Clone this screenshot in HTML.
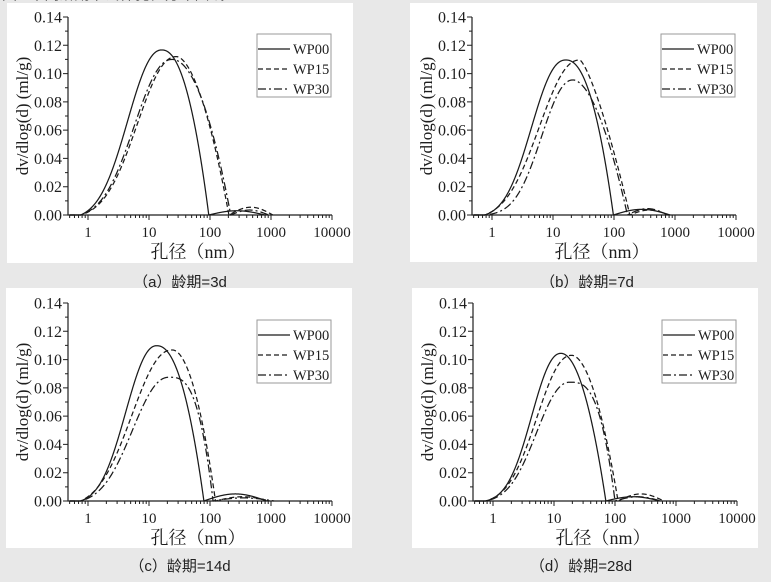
<!DOCTYPE html>
<html><head><meta charset="utf-8">
<style>
html,body{margin:0;padding:0;background:#e8e8e8;}
body{width:771px;height:582px;overflow:hidden;}
svg{display:block;}
.tl{font-family:"Liberation Serif","Noto Serif CJK SC",serif;font-size:15px;fill:#1e1e1e;}
.ty{font-family:"Liberation Serif",serif;font-size:16px;fill:#1e1e1e;}
.yt{font-family:"Liberation Serif",serif;font-size:17px;fill:#1e1e1e;}
.xt{font-family:"Liberation Serif","Noto Serif CJK SC",serif;font-size:18px;fill:#1e1e1e;}
.lg{font-family:"Liberation Serif",serif;font-size:14.5px;fill:#1e1e1e;}
.cap{font-family:"Liberation Sans","Noto Sans CJK SC",sans-serif;font-size:15px;fill:#222;}
</style></head>
<body>
<svg id="s" width="771" height="582" viewBox="0 0 771 582" xmlns="http://www.w3.org/2000/svg">
<rect x="0" y="0" width="771" height="582" fill="#e8e8e8"/>
<text x="2" y="-1" class="cap" font-size="16">图4 不同龄期下试样孔径分布曲线</text>
<text x="180" y="287" text-anchor="middle" class="cap">（a）龄期=3d</text>
<text x="587" y="287" text-anchor="middle" class="cap">（b）龄期=7d</text>
<rect x="7" y="3" width="346" height="260" fill="#fff"/>
<rect x="410" y="3" width="347" height="259" fill="#fff"/>
<rect x="6" y="288" width="346" height="260" fill="#fff"/>
<rect x="412" y="288" width="346" height="260" fill="#fff"/>
<text x="180" y="571" text-anchor="middle" class="cap">（c）龄期=14d</text>
<text x="581" y="571" text-anchor="middle" class="cap">（d）龄期=28d</text>

<g id="pa" transform="translate(68,17)">
<text x="-6" y="5.5" text-anchor="end" class="ty">0.14</text>
<text x="-6" y="33.8" text-anchor="end" class="ty">0.12</text>
<text x="-6" y="62.1" text-anchor="end" class="ty">0.10</text>
<text x="-6" y="90.4" text-anchor="end" class="ty">0.08</text>
<text x="-6" y="118.6" text-anchor="end" class="ty">0.06</text>
<text x="-6" y="146.9" text-anchor="end" class="ty">0.04</text>
<text x="-6" y="175.2" text-anchor="end" class="ty">0.02</text>
<text x="-6" y="203.5" text-anchor="end" class="ty">0.00</text>
<text x="20" y="220" text-anchor="middle" class="tl">1</text>
<text x="81" y="220" text-anchor="middle" class="tl">10</text>
<text x="142" y="220" text-anchor="middle" class="tl">100</text>
<text x="203" y="220" text-anchor="middle" class="tl">1000</text>
<text x="264" y="220" text-anchor="middle" class="tl">10000</text>
<text x="130" y="241" text-anchor="middle" class="xt">孔径（nm）</text>
<text transform="translate(-40,99) rotate(-90)" text-anchor="middle" class="yt">dv/dlog(d) (ml/g)</text>
<text x="225" y="37" class="lg">WP00</text>
<text x="225" y="57" class="lg">WP15</text>
<text x="225" y="77" class="lg">WP30</text>
</g>

<g id="pb" transform="translate(472,17)">
<text x="-6" y="5.5" text-anchor="end" class="ty">0.14</text>
<text x="-6" y="33.8" text-anchor="end" class="ty">0.12</text>
<text x="-6" y="62.1" text-anchor="end" class="ty">0.10</text>
<text x="-6" y="90.4" text-anchor="end" class="ty">0.08</text>
<text x="-6" y="118.6" text-anchor="end" class="ty">0.06</text>
<text x="-6" y="146.9" text-anchor="end" class="ty">0.04</text>
<text x="-6" y="175.2" text-anchor="end" class="ty">0.02</text>
<text x="-6" y="203.5" text-anchor="end" class="ty">0.00</text>
<text x="20" y="220" text-anchor="middle" class="tl">1</text>
<text x="81" y="220" text-anchor="middle" class="tl">10</text>
<text x="142" y="220" text-anchor="middle" class="tl">100</text>
<text x="203" y="220" text-anchor="middle" class="tl">1000</text>
<text x="264" y="220" text-anchor="middle" class="tl">10000</text>
<text x="130" y="241" text-anchor="middle" class="xt">孔径（nm）</text>
<text transform="translate(-40,99) rotate(-90)" text-anchor="middle" class="yt">dv/dlog(d) (ml/g)</text>
<text x="225" y="37" class="lg">WP00</text>
<text x="225" y="57" class="lg">WP15</text>
<text x="225" y="77" class="lg">WP30</text>
</g>

<g id="pc" transform="translate(68,303)">
<text x="-6" y="5.5" text-anchor="end" class="ty">0.14</text>
<text x="-6" y="33.8" text-anchor="end" class="ty">0.12</text>
<text x="-6" y="62.1" text-anchor="end" class="ty">0.10</text>
<text x="-6" y="90.4" text-anchor="end" class="ty">0.08</text>
<text x="-6" y="118.6" text-anchor="end" class="ty">0.06</text>
<text x="-6" y="146.9" text-anchor="end" class="ty">0.04</text>
<text x="-6" y="175.2" text-anchor="end" class="ty">0.02</text>
<text x="-6" y="203.5" text-anchor="end" class="ty">0.00</text>
<text x="20" y="220" text-anchor="middle" class="tl">1</text>
<text x="81" y="220" text-anchor="middle" class="tl">10</text>
<text x="142" y="220" text-anchor="middle" class="tl">100</text>
<text x="203" y="220" text-anchor="middle" class="tl">1000</text>
<text x="264" y="220" text-anchor="middle" class="tl">10000</text>
<text x="130" y="241" text-anchor="middle" class="xt">孔径（nm）</text>
<text transform="translate(-40,99) rotate(-90)" text-anchor="middle" class="yt">dv/dlog(d) (ml/g)</text>
<text x="225" y="37" class="lg">WP00</text>
<text x="225" y="57" class="lg">WP15</text>
<text x="225" y="77" class="lg">WP30</text>
</g>

<g id="pd" transform="translate(473,303)">
<text x="-6" y="5.5" text-anchor="end" class="ty">0.14</text>
<text x="-6" y="33.8" text-anchor="end" class="ty">0.12</text>
<text x="-6" y="62.1" text-anchor="end" class="ty">0.10</text>
<text x="-6" y="90.4" text-anchor="end" class="ty">0.08</text>
<text x="-6" y="118.6" text-anchor="end" class="ty">0.06</text>
<text x="-6" y="146.9" text-anchor="end" class="ty">0.04</text>
<text x="-6" y="175.2" text-anchor="end" class="ty">0.02</text>
<text x="-6" y="203.5" text-anchor="end" class="ty">0.00</text>
<text x="20" y="220" text-anchor="middle" class="tl">1</text>
<text x="81" y="220" text-anchor="middle" class="tl">10</text>
<text x="142" y="220" text-anchor="middle" class="tl">100</text>
<text x="203" y="220" text-anchor="middle" class="tl">1000</text>
<text x="264" y="220" text-anchor="middle" class="tl">10000</text>
<text x="130" y="241" text-anchor="middle" class="xt">孔径（nm）</text>
<text transform="translate(-40,99) rotate(-90)" text-anchor="middle" class="yt">dv/dlog(d) (ml/g)</text>
<text x="225" y="37" class="lg">WP00</text>
<text x="225" y="57" class="lg">WP15</text>
<text x="225" y="77" class="lg">WP30</text>
</g>
</svg>
<script>
(function(){
var NS="http://www.w3.org/2000/svg";
function X(u){return 20+61*u;}
function Y(v){return 198-v*198/0.14;}
function el(g,tag,attrs){var e=document.createElementNS(NS,tag);for(var k in attrs)e.setAttribute(k,attrs[k]);g.appendChild(e);return e;}
var styles=["","5,3","8,3,2,3"];
// [u0,P,sL,pl,uz,pr,hb,H]
var data={
pa:[[1.21,0.1167,0.54,2.2,1.98,2.2,2.90,0.003],
    [1.45,0.112,0.62,2.2,2.31,1.8,3.03,0.0055],
    [1.38,0.110,0.60,2.2,2.34,2.0,2.96,0.0035]],
pb:[[1.213,0.1096,0.54,2.3,1.99,2.2,2.92,0.004],
    [1.44,0.1096,0.64,2.2,2.26,1.35,2.90,0.0035],
    [1.33,0.0955,0.50,2.2,2.22,1.8,2.88,0.0045]],
pc:[[1.127,0.1098,0.49,2.2,1.90,2.2,2.93,0.005],
    [1.38,0.1068,0.64,2.2,2.09,2.0,2.98,0.003],
    [1.33,0.0875,0.58,2.2,2.05,3.0,3.05,0.0022]],
pd:[[1.115,0.1044,0.463,2.2,1.85,2.0,2.74,0.003],
    [1.29,0.103,0.55,2.2,2.05,1.9,2.80,0.005],
    [1.26,0.084,0.527,2.2,2.0,3.0,2.75,0.003]]
};
var US=-0.12;
function g0(p,d){return Math.exp(-0.5*Math.pow(d/p[2],p[3]));}
function f(p,u){
  var u0=p[0],P=p[1],uz=p[4],pr=p[5],hb=p[6],H=p[7],v;
  if(u<=US) v=0;
  else if(u<u0){var gD=g0(p,u0-US);v=P*(g0(p,u0-u)-gD)/(1-gD);}
  else if(u<uz) v=P*(1-Math.pow((u-u0)/(uz-u0),pr));
  else v=0;
  if(u>uz&&u<hb) v+=H*Math.sin(Math.PI*(u-uz)/(hb-uz));
  return Math.max(v,0);
}
for(var id in data){
  var g=document.getElementById(id);
  var d="";
  el(g,"path",{d:"M0,0V198H264",fill:"none",stroke:"#1e1e1e","stroke-width":"1.2"});
  for(var i=0;i<=14;i++){
    var y=Y(i*0.01),len=(i%2==0)?5:3;
    d+="M0,"+y.toFixed(2)+"H"+(-len);
  }
  for(var n=-1;n<=3;n++){
    for(var k=1;k<=9;k++){
      var u=n+Math.log10(k);
      if(u<-0.33)continue;
      var x=X(u),l=(k==1)?5:3;
      d+="M"+x.toFixed(2)+",198V"+(198+l);
    }
  }
  d+="M"+X(4)+",198V203";
  el(g,"path",{d:d,fill:"none",stroke:"#1e1e1e","stroke-width":"1"});
  el(g,"rect",{x:189,y:17,width:74,height:63,fill:"#fff",stroke:"#9a9a9a","stroke-width":"1"});
  var arr=data[id];
  for(var c=0;c<3;c++){
    var p=arr[c],pts=[],us=[];
    for(var u=-0.3;u<=p[6]+0.0001;u+=0.005)us.push(u);
    us.push(p[0]);us.push(p[4]);us.push(p[6]);us.push(US);
    us.sort(function(a,b){return a-b;});
    for(var j=0;j<us.length;j++){
      pts.push(X(us[j]).toFixed(2)+","+Y(f(p,us[j])).toFixed(2));
    }
    var a={d:"M"+pts.join("L"),fill:"none",stroke:"#1a1a1a","stroke-width":"1.25","stroke-linejoin":"round"};
    if(styles[c])a["stroke-dasharray"]=styles[c];
    el(g,"path",a);
    var ly=32+20*c;
    var b={d:"M190,"+ly+"H222",fill:"none",stroke:"#1a1a1a","stroke-width":"1.25"};
    if(styles[c])b["stroke-dasharray"]=styles[c];
    el(g,"path",b);
  }
  var ts=g.querySelectorAll("text.lg");
  for(var t=0;t<ts.length;t++)g.appendChild(ts[t]);
}
})();
</script>
</body></html>
